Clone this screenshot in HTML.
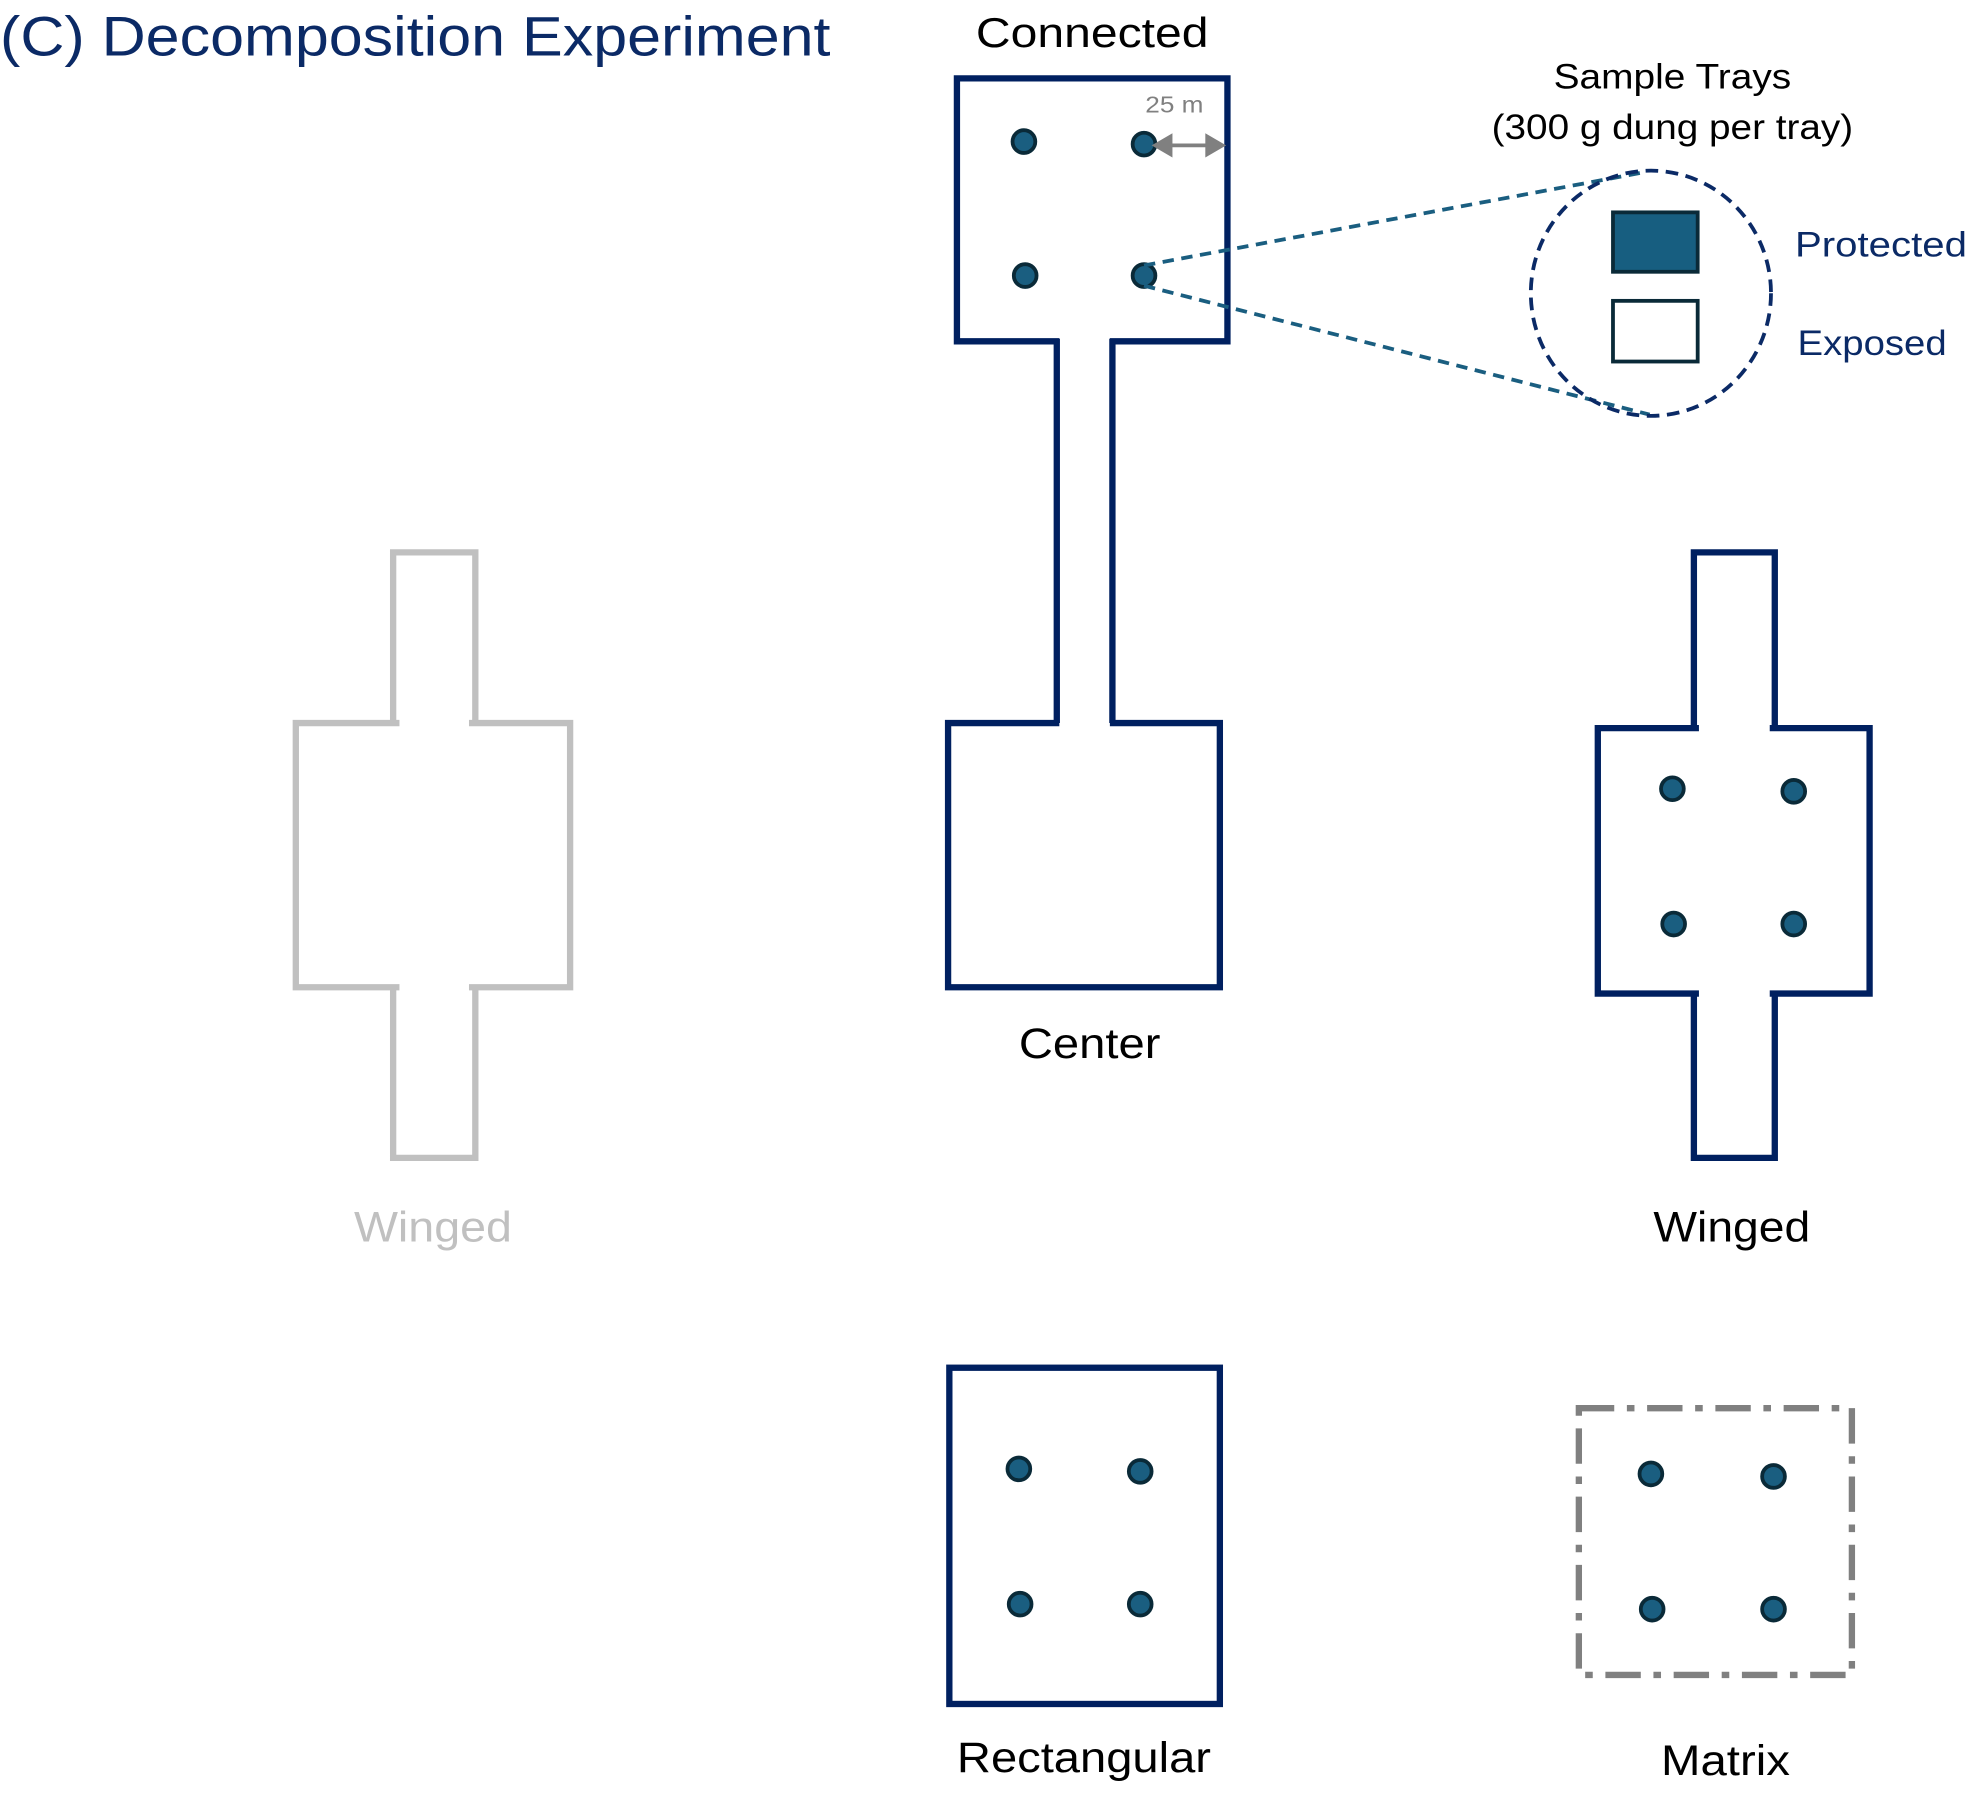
<!DOCTYPE html>
<html><head><meta charset="utf-8"><style>
html,body{margin:0;padding:0;background:#fff;}
svg{display:block;}
text{font-family:"Liberation Sans",sans-serif;}
</style></head><body>
<svg width="1972" height="1807" viewBox="0 0 1560 1429.5" xmlns="http://www.w3.org/2000/svg">
<rect width="1560" height="1430" fill="#fff"/>
<text x="0" y="44" font-size="44" fill="#0b2a66" textLength="657" lengthAdjust="spacingAndGlyphs">(C) Decomposition Experiment</text>

<!-- Connected -->
<text x="772" y="37" font-size="33" fill="#000" textLength="184" lengthAdjust="spacingAndGlyphs">Connected</text>
<g fill="none" stroke="#002060" stroke-width="5">
<path d="M838,270 H757 V62 H971 V270 H878"/>
<path d="M836,268 V572 M880,268 V572"/>
<path d="M838,572 H750 V781 H965 V572 H878"/>
</g>
<g fill="#1a5e80" stroke="#0a2a38" stroke-width="3">
<circle cx="810" cy="112" r="9"/><circle cx="905" cy="114" r="9"/>
<circle cx="811" cy="218" r="9"/><circle cx="905" cy="218" r="9"/>
</g>
<text x="906" y="89" font-size="18" fill="#808080" textLength="46" lengthAdjust="spacingAndGlyphs">25 m</text>
<g stroke="#808080" stroke-width="3" fill="#808080">
<line x1="922" y1="115" x2="958" y2="115"/>
<polygon points="914,115 926,108 926,122"/>
<polygon points="967,115 955,108 955,122"/>
</g>

<!-- Sample trays -->
<text x="1229" y="70" font-size="28" fill="#000" textLength="188" lengthAdjust="spacingAndGlyphs">Sample Trays</text>
<text x="1180" y="110" font-size="28" fill="#000" textLength="286" lengthAdjust="spacingAndGlyphs">(300 g dung per tray)</text>
<g stroke="#1a5e80" stroke-width="3" stroke-dasharray="9,6" fill="none">
<line x1="905" y1="210" x2="1302" y2="136"/>
<line x1="905" y1="226" x2="1305" y2="328"/>
</g>
<ellipse cx="1306" cy="232" rx="95" ry="97" fill="none" stroke="#0b2a66" stroke-width="3" stroke-dasharray="10,6"/>
<rect x="1276" y="168" width="67" height="47" fill="#175e80" stroke="#0a2a38" stroke-width="3"/>
<rect x="1276" y="238" width="67" height="48" fill="#fff" stroke="#0a2a38" stroke-width="3"/>
<text x="1420" y="203" font-size="28" fill="#0b2a66" textLength="136" lengthAdjust="spacingAndGlyphs">Protected</text>
<text x="1422" y="281" font-size="28" fill="#0b2a66" textLength="118" lengthAdjust="spacingAndGlyphs">Exposed</text>

<!-- Gray winged -->
<g fill="none" stroke="#c0c0c0" stroke-width="5">
<path d="M311,572 V437 H376 V572"/>
<path d="M316,572 H234 V781 H316 M371,572 H451 V781 H371"/>
<path d="M311,781 V916 H376 V781"/>
</g>
<text x="280" y="982" font-size="34" fill="#c0c0c0" textLength="125" lengthAdjust="spacingAndGlyphs">Winged</text>

<!-- Center label -->
<text x="806" y="837" font-size="34" fill="#000" textLength="112" lengthAdjust="spacingAndGlyphs">Center</text>

<!-- Right winged -->
<g fill="none" stroke="#002060" stroke-width="5">
<path d="M1340,576 V437 H1404 V576"/>
<path d="M1344,576 H1264 V786 H1344 M1400,576 H1479 V786 H1400"/>
<path d="M1340,786 V916 H1404 V786"/>
</g>
<g fill="#1a5e80" stroke="#0a2a38" stroke-width="3">
<circle cx="1323" cy="624" r="9"/><circle cx="1419" cy="626" r="9"/>
<circle cx="1324" cy="731" r="9"/><circle cx="1419" cy="731" r="9"/>
</g>
<text x="1308" y="982" font-size="34" fill="#000" textLength="124" lengthAdjust="spacingAndGlyphs">Winged</text>

<!-- Rectangular -->
<rect x="751" y="1082" width="214" height="266" fill="none" stroke="#002060" stroke-width="5"/>
<g fill="#1a5e80" stroke="#0a2a38" stroke-width="3">
<circle cx="806" cy="1162" r="9"/><circle cx="902" cy="1164" r="9"/>
<circle cx="807" cy="1269" r="9"/><circle cx="902" cy="1269" r="9"/>
</g>
<text x="757" y="1402" font-size="34" fill="#000" textLength="201" lengthAdjust="spacingAndGlyphs">Rectangular</text>

<!-- Matrix -->
<rect x="1249" y="1114" width="216" height="211" fill="none" stroke="#808080" stroke-width="5" stroke-dasharray="28,10,6,10"/>
<g fill="#1a5e80" stroke="#0a2a38" stroke-width="3">
<circle cx="1306" cy="1166" r="9"/><circle cx="1403" cy="1168" r="9"/>
<circle cx="1307" cy="1273" r="9"/><circle cx="1403" cy="1273" r="9"/>
</g>
<text x="1314" y="1404" font-size="34" fill="#000" textLength="102" lengthAdjust="spacingAndGlyphs">Matrix</text>
</svg>
</body></html>
